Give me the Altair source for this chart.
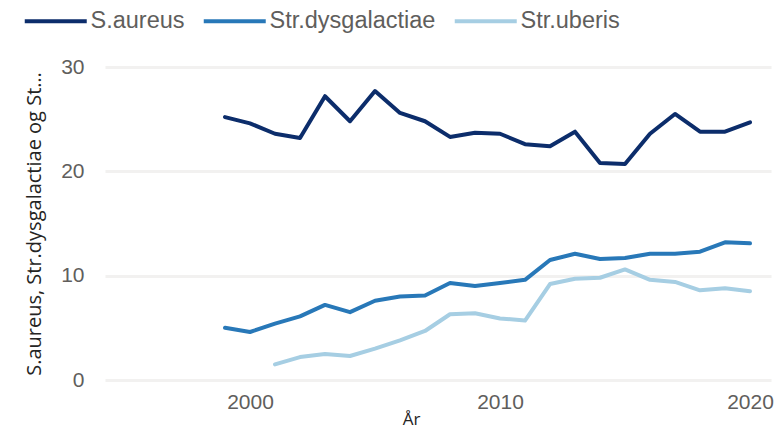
import altair as alt
import pandas as pd

years = list(range(1999, 2021))
s_aureus = [25.2, 24.6, 23.6, 23.2, 27.2, 24.8, 27.7, 25.6, 24.8, 23.3, 23.7,
            23.6, 22.6, 22.4, 23.8, 20.8, 20.7, 23.6, 25.5, 23.8, 23.8, 24.7]
str_dysgalactiae = [5.0, 4.6, 5.4, 6.1, 7.2, 6.5, 7.6, 8.0, 8.1, 9.3, 9.0,
                    9.3, 9.6, 11.5, 12.1, 11.6, 11.7, 12.1, 12.1, 12.3, 13.2, 13.1]
uberis_years = list(range(2001, 2021))
str_uberis = [1.5, 2.2, 2.5, 2.3, 3.0, 3.8, 4.7, 6.3, 6.4, 5.9,
              5.7, 9.2, 9.7, 9.8, 10.6, 9.6, 9.4, 8.6, 8.8, 8.5]

series_names = ["S.aureus", "Str.dysgalactiae", "Str.uberis"]
series_colors = ["#0c2d6b", "#2878b8", "#a6cee3"]

rows = []
for y, v in zip(years, s_aureus):
    rows.append({"År": y, "Verdi": v, "Serie": series_names[0]})
for y, v in zip(years, str_dysgalactiae):
    rows.append({"År": y, "Verdi": v, "Serie": series_names[1]})
for y, v in zip(uberis_years, str_uberis):
    rows.append({"År": y, "Verdi": v, "Serie": series_names[2]})
df = pd.DataFrame(rows)

chart = alt.Chart(df).mark_line(strokeWidth=4, strokeCap="round", strokeJoin="round").encode(
    x=alt.X("År:Q",
            scale=alt.Scale(domain=[1994.2, 2020.84], nice=False, zero=False),
            axis=alt.Axis(values=[2000, 2010, 2020], format="d", grid=False, domain=False,
                          ticks=False, labelFont="Liberation Sans", labelFontSize=21,
                          labelColor="#605e5c", labelPadding=11,
                          title="År", titleFont="Open Sans", titleFontSize=17,
                          titleFontWeight=500, titleColor="#252423",
                          titleX=306, titleY=44, titleBaseline="alphabetic",
                          titleAlign="center")),
    y=alt.Y("Verdi:Q",
            scale=alt.Scale(domain=[0, 30], nice=False),
            axis=alt.Axis(values=[0, 10, 20, 30], grid=True, gridColor="#f2f1f0",
                          gridWidth=3, domain=False, ticks=False,
                          labelFont="Liberation Sans", labelFontSize=21,
                          labelColor="#605e5c", labelPadding=21,
                          title="S.aureus, Str.dysgalactiae og St…",
                          titleFont="Open Sans", titleFontSize=20,
                          titleFontWeight=500, titleColor="#252423",
                          titleAngle=270, titleX=-65, titleY=156.5,
                          titleBaseline="alphabetic", titleAlign="center")),
    color=alt.Color("Serie:N",
                    scale=alt.Scale(domain=series_names, range=series_colors),
                    legend=alt.Legend(orient="none", direction="horizontal",
                                      legendX=-87, legendY=-58, title=None,
                                      symbolType="M-1,0H11.4", symbolSize=100,
                                      symbolStrokeWidth=4, labelOffset=49,
                                      labelFont="Liberation Sans", labelFontSize=23.5,
                                      labelColor="#605e5c", columnPadding=10,
                                      padding=0, labelLimit=400)),
).properties(
    width=666,
    height=313,
    autosize=alt.AutoSizeParams(type="none"),
    padding={"left": 97, "top": 59, "right": 3, "bottom": 51},
).configure_view(stroke=None)

chart.save("out.html", embed_options={"renderer": "svg", "actions": False})
